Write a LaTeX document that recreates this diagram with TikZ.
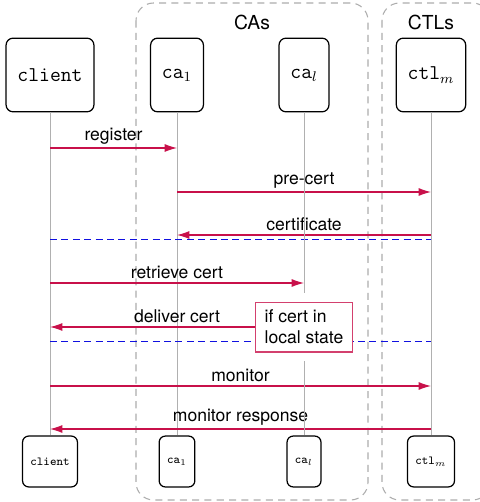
\documentclass[tikz,border=0pt]{standalone}
\usepackage{fontspec}
\setsansfont{TeX Gyre Heros}
\usetikzlibrary{arrows.meta}

\definecolor{msgred}{HTML}{C8104A}
\definecolor{lifegray}{HTML}{B0B0B0}
\definecolor{sepblue}{HTML}{1010E0}

\tikzset{
	party/.style = {draw, line width = 0.7pt, rounded corners = 4pt, minimum height = 42pt, inner xsep = 6.5pt, font = \large\ttfamily},
	partyfoot/.style = {draw, line width = 0.7pt, rounded corners = 3.5pt, minimum height = 29pt, inner xsep = 4.5pt, font = \scriptsize\ttfamily},
	group/.style = {draw = gray!65, line width = 0.6pt, dash pattern = on 4pt off 3pt, rounded corners = 10pt},
	grouptitle/.style = {font = \fontsize{11}{13}\selectfont\sffamily},
	lifeline/.style = {lifegray, thin},
	msg/.style = {msgred, semithick, -{Latex[length = 7pt, width = 4.5pt]}},
	msglabel/.style = {above, inner sep = 2pt, font = \sffamily, text = black},
	sep/.style = {sepblue, line width = 0.55pt, dash pattern = on 4pt off 2.5pt},
	note/.style = {draw = msgred!80, fill = white, semithick, align = left, inner xsep = 5pt, inner ysep = 4.5pt, font = \sffamily}
}

\begin{document}
\begin{tikzpicture}[x = 0.57pt, y = -0.57pt]
		\useasboundingbox (0, 0) rectangle (479, 502);
		
		\draw[group] (136, 3) rectangle (368, 500);
		\draw[group] (382, 3) rectangle (490, 500);
		\node[grouptitle] (catitle) at (252, 22) {CAs};
		\node[grouptitle] (ctltitle) at (431, 22) {CTLs};
		
		\node[party] (client) at (50, 75) {client};
		\node[party] (ca1) at (177, 75) {ca$_1$};
		\node[party] (cal) at (304, 75) {ca$_l$};
		\node[party] (ctl) at (431, 75) {ctl$_m$};
		
		\node[partyfoot] (clientB) at (50, 461.5) {client};
		\node[partyfoot] (ca1B) at (177, 461.5) {ca$_1$};
		\node[partyfoot] (calB) at (304, 461.5) {ca$_l$};
		\node[partyfoot] (ctlB) at (431, 461.5) {ctl$_m$};
		
		\draw[lifeline] (client) -- (clientB);
		\draw[lifeline] (ca1) -- (ca1B);
		\draw[lifeline] (ctl) -- (ctlB);
		
		\draw[msg] (client |- 0, 148) -- node[msglabel] {register} (ca1 |- 0, 148);
		\draw[msg] (ca1 |- 0, 192) -- node[msglabel] {pre-cert} (ctl |- 0, 192);
		\draw[msg] (ctl |- 0, 235) -- node[msglabel] {certificate} (ca1 |- 0, 235);
		\draw[sep] (client |- 0, 239) -- (ctl |- 0, 239);
		
		\draw[msg] (client |- 0, 283) -- node[msglabel] {retrieve cert} (cal |- 0, 283);
		\draw[msg] (cal |- 0, 327) -- node[msglabel] {deliver cert} (client |- 0, 327);
		\draw[sep] (client |- 0, 341) -- (ctl |- 0, 341);
		
		\draw[msg] (client |- 0, 386) -- node[msglabel] {monitor} (ctl |- 0, 386);
		\draw[msg] (ctl |- 0, 429) -- node[msglabel] {monitor response} (client |- 0, 429);
		
		\node[note] (cond) at (304, 327) {if cert in\\local state};
		
		\draw[lifeline, shorten >= 5pt] (cal) -- (cond);
		\draw[lifeline, shorten <= 5pt] (cond) -- (calB);
	\end{tikzpicture}
\end{document}
